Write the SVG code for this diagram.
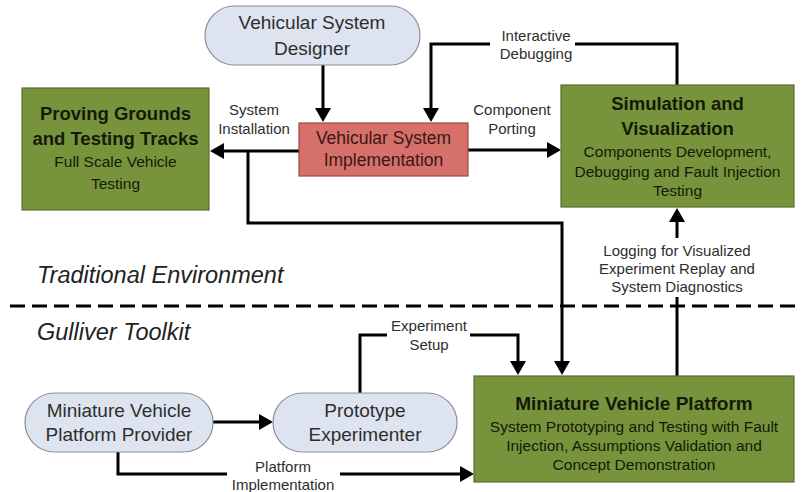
<svg xmlns="http://www.w3.org/2000/svg" width="802" height="492" viewBox="0 0 802 492">
<style>
text{font-family:"Liberation Sans",Arial,sans-serif;text-anchor:middle;fill:#1e1e1e}
.actor{fill:#dde4f0;stroke:#8a8f98;stroke-width:1.2}
.green{fill:#77933c;stroke:#5a6e2c;stroke-width:1.2}
.red{fill:#d6706a;stroke:#9c4a45;stroke-width:1.2}
.t19{font-size:19px;fill:#2e2e2e}
.bt{font-size:18.5px;font-weight:bold;fill:#141a08}
.st{font-size:15.5px;fill:#141a08}
.lbl{font-size:15px;fill:#2e2e2e}
.env{font-size:23.5px;font-style:italic;text-anchor:start;fill:#222}
.c{fill:none;stroke:#000;stroke-width:3}
</style>
<defs>
<marker id="ah" markerUnits="userSpaceOnUse" viewBox="0 0 14 16" markerWidth="14" markerHeight="16" refX="11" refY="8" orient="auto">
<path d="M0,0 L14,8 L0,16 z" fill="#000"/>
</marker>
</defs>
<rect width="802" height="492" fill="#fff"/>

<g id="env">
<text class="env" x="37" y="283">Traditional Environment</text>
<line x1="10" y1="306" x2="800" y2="306" stroke="#000" stroke-width="3" stroke-dasharray="15 7"/>
<text class="env" x="37" y="340">Gulliver Toolkit</text>
</g>

<g id="connectors">
<path class="c" d="M323,65 V119" marker-end="url(#ah)"/>
<path class="c" d="M299,151 H213" marker-end="url(#ah)"/>
<path class="c" d="M248,151 V223 H562 V372" marker-end="url(#ah)"/>
<path class="c" d="M468,150 H558" marker-end="url(#ah)"/>
<path class="c" d="M677,85 V44 H575"/>
<path class="c" d="M490,44 H431 V119" marker-end="url(#ah)"/>
<path class="c" d="M677,376 V297"/>
<path class="c" d="M677,238 V211" marker-end="url(#ah)"/>
<path class="c" d="M213,422 H270" marker-end="url(#ah)"/>
<path class="c" d="M360,393 V335 H387"/>
<path class="c" d="M470,335 H518 V372" marker-end="url(#ah)"/>
<path class="c" d="M118,452 V474 H227"/>
<path class="c" d="M340,474 H471" marker-end="url(#ah)"/>
<text class="lbl" x="254" y="115">System</text>
<text class="lbl" x="254" y="134">Installation</text>
<text class="lbl" x="512" y="115">Component</text>
<text class="lbl" x="512" y="134">Porting</text>
<text class="lbl" x="536" y="41">Interactive</text>
<text class="lbl" x="536" y="59">Debugging</text>
<text class="lbl" x="677" y="256">Logging for Visualized</text>
<text class="lbl" x="677" y="274">Experiment Replay and</text>
<text class="lbl" x="677" y="292">System Diagnostics</text>
<text class="lbl" x="429" y="331">Experiment</text>
<text class="lbl" x="429" y="350">Setup</text>
<text class="lbl" x="283" y="472">Platform</text>
<text class="lbl" x="283" y="490">Implementation</text>
</g>

<g id="designer">
<rect class="actor" x="205" y="6" width="215" height="59" rx="29.5"/>
<text class="t19" x="312" y="29">Vehicular System</text>
<text class="t19" x="312" y="55">Designer</text>
</g>

<g id="proving">
<rect class="green" x="22" y="88" width="187" height="122"/>
<text class="bt" x="115.5" y="120">Proving Grounds</text>
<text class="bt" x="115.5" y="145">and Testing Tracks</text>
<text class="st" x="115.5" y="167">Full Scale Vehicle</text>
<text class="st" x="115.5" y="189">Testing</text>
</g>

<g id="impl">
<rect class="red" x="299" y="123" width="169" height="53"/>
<text x="383.5" y="144" style="font-size:17.5px;fill:#3b1614">Vehicular System</text>
<text x="383.5" y="166" style="font-size:17.5px;fill:#3b1614">Implementation</text>
</g>

<g id="simulation">
<rect class="green" x="561" y="85" width="233" height="122"/>
<text class="bt" x="677.5" y="110">Simulation and</text>
<text class="bt" x="677.5" y="135">Visualization</text>
<text class="st" x="677.5" y="157">Components Development,</text>
<text class="st" x="677.5" y="177">Debugging and Fault Injection</text>
<text class="st" x="677.5" y="196">Testing</text>
</g>

<g id="provider">
<rect class="actor" x="25" y="393" width="188" height="59" rx="29.5"/>
<text class="t19" x="119" y="417">Miniature Vehicle</text>
<text class="t19" x="119" y="441">Platform Provider</text>
</g>

<g id="experimenter">
<rect class="actor" x="273" y="393" width="184" height="59" rx="29.5"/>
<text class="t19" x="365" y="417">Prototype</text>
<text class="t19" x="365" y="441">Experimenter</text>
</g>

<g id="platform">
<rect class="green" x="474" y="376" width="320" height="106"/>
<text class="bt" x="634" y="410" style="font-size:19px">Miniature Vehicle Platform</text>
<text class="st" x="634" y="432">System Prototyping and Testing with Fault</text>
<text class="st" x="634" y="451">Injection, Assumptions Validation and</text>
<text class="st" x="634" y="470">Concept Demonstration</text>
</g>
</svg>
